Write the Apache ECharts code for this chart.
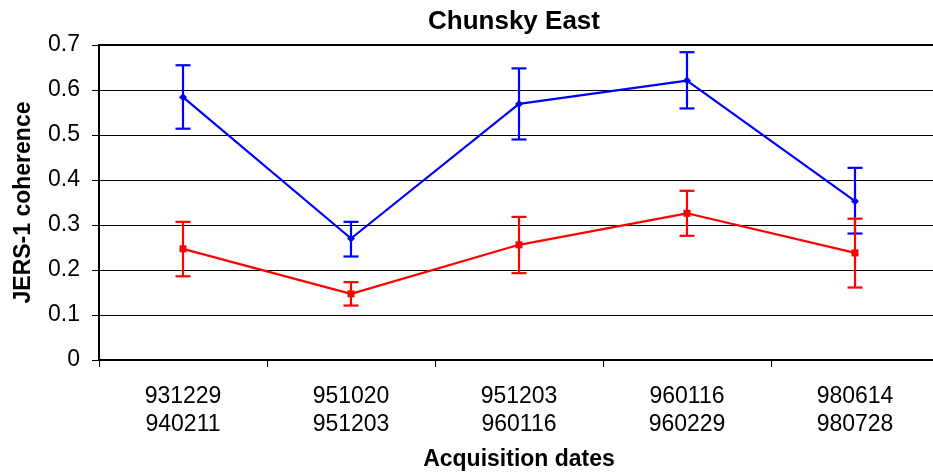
<!DOCTYPE html>
<html>
<head>
<meta charset="utf-8">
<script src="https://cdn.jsdelivr.net/npm/echarts@6/dist/echarts.min.js"></script>
<style>
  html, body { margin: 0; padding: 0; background: #fff; }
  #chart { width: 933px; height: 472px; }
</style>
</head>
<body>
<div id="chart"></div>
<script>
// Acquisition pairs (start / end date, YYMMDD)
const startDates = ['931229', '951020', '951203', '960116', '980614'];
const endDates   = ['940211', '951203', '960116', '960229', '980728'];

// Mean JERS-1 coherence and error-bar limits, upper curve (blue)
const blueMean = [0.584, 0.270, 0.569, 0.621, 0.353];
const blueLow  = [0.514, 0.230, 0.490, 0.559, 0.281];
const blueHigh = [0.655, 0.307, 0.648, 0.684, 0.427];

// Lower curve (red)
const redMean = [0.247, 0.147, 0.256, 0.326, 0.238];
const redLow  = [0.186, 0.121, 0.193, 0.276, 0.161];
const redHigh = [0.307, 0.173, 0.318, 0.376, 0.314];

const yTicks = [0, 0.1, 0.2, 0.3, 0.4, 0.5, 0.6, 0.7];

const categories = startDates.map((s, i) => s + '\n' + endDates[i]);

const FONT = '"Liberation Sans", Arial, Helvetica, sans-serif';

// Error bar: vertical stem with a short cap at each end
function errorBarSeries(low, high, color) {
  return {
    type: 'custom',
    data: low.map((l, i) => [i, l, high[i]]),
    z: 3,
    renderItem: function (params, api) {
      const top = api.coord([api.value(0), api.value(2)]);
      const bot = api.coord([api.value(0), api.value(1)]);
      const hw = 7.5;
      const style = { stroke: color, lineWidth: 2.2, fill: null };
      return {
        type: 'group',
        children: [
          { type: 'line', shape: { x1: top[0], y1: top[1], x2: bot[0], y2: bot[1] }, style: style },
          { type: 'line', shape: { x1: top[0] - hw, y1: top[1], x2: top[0] + hw, y2: top[1] }, style: style },
          { type: 'line', shape: { x1: bot[0] - hw, y1: bot[1], x2: bot[0] + hw, y2: bot[1] }, style: style }
        ]
      };
    }
  };
}

const chart = echarts.init(document.getElementById('chart'), null, { renderer: 'canvas' });

chart.setOption({
  animation: false,
  backgroundColor: '#ffffff',
  textStyle: { fontFamily: FONT },
  graphic: [{
    type: 'text',
    x: 514,
    y: 9,
    style: {
      text: 'Chunsky East',
      fill: '#000',
      font: 'bold 26px ' + FONT,
      textAlign: 'center',
      textVerticalAlign: 'top'
    }
  }],
  grid: {
    left: 99, top: 45, width: 840, height: 315,
    containLabel: false,
    outerBoundsMode: 'none'
  },
  xAxis: [{
    type: 'category',
    data: categories,
    boundaryGap: true,
    position: 'bottom',
    name: 'Acquisition dates',
    nameLocation: 'middle',
    nameGap: 88,
    nameTextStyle: { color: '#000', fontSize: 23, fontWeight: 'bold', fontFamily: FONT },
    axisLine: { lineStyle: { color: '#000', width: 2 } },
    axisTick: { show: true, length: 7, lineStyle: { color: '#000', width: 1 } },
    axisLabel: { color: '#000', fontSize: 23, fontFamily: FONT, margin: 23, lineHeight: 28, interval: 0 },
    splitLine: { show: false }
  }, {
    type: 'category',
    data: categories,
    position: 'top',
    axisLine: { lineStyle: { color: '#000', width: 2 } },
    axisTick: { show: false },
    axisLabel: { show: false },
    splitLine: { show: false }
  }],
  yAxis: {
    type: 'value',
    min: yTicks[0],
    max: yTicks[yTicks.length - 1],
    interval: 0.1,
    name: 'JERS-1 coherence',
    nameLocation: 'middle',
    nameGap: 64,
    nameTextStyle: { color: '#000', fontSize: 23, fontWeight: 'bold', fontFamily: FONT },
    axisLine: { show: true, lineStyle: { color: '#000', width: 2 } },
    axisTick: { show: true, length: 7, inside: false, lineStyle: { color: '#000', width: 1 } },
    axisLabel: {
      color: '#000', fontSize: 23, fontFamily: FONT, margin: 19,
      formatter: v => (v === 0 ? '0' : v.toFixed(1))
    },
    splitLine: { show: true, lineStyle: { color: '#000', width: 1 } }
  },
  series: [
    errorBarSeries(blueLow, blueHigh, '#0000ff'),
    {
      type: 'line',
      data: blueMean,
      z: 4,
      symbol: 'diamond',
      symbolSize: 8,
      itemStyle: { color: '#0000ff' },
      lineStyle: { color: '#0000ff', width: 2.2 }
    },
    errorBarSeries(redLow, redHigh, '#ff0000'),
    {
      type: 'line',
      data: redMean,
      z: 4,
      symbol: 'rect',
      symbolSize: 7,
      itemStyle: { color: '#ff0000' },
      lineStyle: { color: '#ff0000', width: 2.2 }
    }
  ]
});
</script>
</body>
</html>
